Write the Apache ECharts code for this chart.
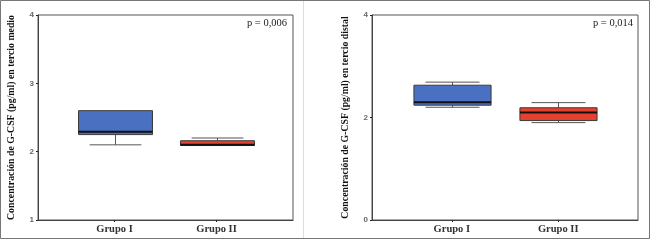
<!DOCTYPE html>
<html>
<head>
<meta charset="utf-8">
<script src="https://cdn.jsdelivr.net/npm/echarts@6/dist/echarts.min.js"></script>
<style>
  html, body { margin: 0; padding: 0; background: #fff; }
  #chart { width: 650px; height: 241px; }
</style>
</head>
<body>
<div id="chart"></div>
<script>
// grupos
const categories = ['Grupo I', 'Grupo II'];
const boxColors = ['#4a70c2', '#e8402f'];

// tercio medio (pg/ml)
const medioLow = [2.10, 2.09];
const medioQ1 = [2.25, 2.09];
const medioMedian = [2.29, 2.10];
const medioQ3 = [2.60, 2.16];
const medioHigh = [2.60, 2.20];

// tercio distal (pg/ml)
const distalLow = [2.20, 1.90];
const distalQ1 = [2.24, 1.94];
const distalMedian = [2.30, 2.10];
const distalQ3 = [2.63, 2.19];
const distalHigh = [2.69, 2.29];

const medioTicks = { min: 1, max: 4, interval: 1 };
const distalTicks = { min: 0, max: 4, interval: 2 };
const pValues = ['p = 0,006', 'p = 0,014'];
const axisNames = [
    'Concentración de G-CSF (pg/ml) en tercio medio',
    'Concentración de G-CSF (pg/ml) en tercio distal'
];

// 5 huecos en el eje, los grupos caen en el 2º y el 4º
const slots = ['', categories[0], '', categories[1], ''];
const slotOf = [1, 3];
const showSlot = (i) => i === 1 || i === 3;

function rows(low, q1, med, q3, high) {
    return categories.map((c, i) => [slotOf[i], low[i], q1[i], med[i], q3[i], high[i]]);
}

function renderBox(params, api) {
    const x = api.value(0);
    const lo = api.coord([x, api.value(1)]);
    const q1 = api.coord([x, api.value(2)]);
    const md = api.coord([x, api.value(3)]);
    const q3 = api.coord([x, api.value(4)]);
    const hi = api.coord([x, api.value(5)]);
    const bw = api.size([1, 0])[0] * 1.45;
    const cw = bw * 0.7;
    const cx = Math.round(lo[0]) + 0.5;
    const whisker = { stroke: '#555', lineWidth: 1 };
    const kids = [];
    if (hi[1] < q3[1] - 0.5) {
        kids.push({ type: 'line', shape: { x1: cx, y1: q3[1], x2: cx, y2: hi[1] }, style: whisker });
        kids.push({ type: 'line', shape: { x1: cx - cw / 2, y1: hi[1], x2: cx + cw / 2, y2: hi[1] }, style: whisker });
    }
    if (lo[1] > q1[1] + 0.5) {
        kids.push({ type: 'line', shape: { x1: cx, y1: q1[1], x2: cx, y2: lo[1] }, style: whisker });
        kids.push({ type: 'line', shape: { x1: cx - cw / 2, y1: lo[1], x2: cx + cw / 2, y2: lo[1] }, style: whisker });
    }
    kids.push({
        type: 'rect',
        shape: { x: cx - bw / 2, y: q3[1], width: bw, height: q1[1] - q3[1] },
        style: { fill: boxColors[params.dataIndex], stroke: '#3a3a3a', lineWidth: 1 }
    });
    kids.push({
        type: 'line',
        shape: { x1: cx - bw / 2, y1: md[1], x2: cx + bw / 2, y2: md[1] },
        style: { stroke: '#111', lineWidth: 2 }
    });
    return { type: 'group', children: kids };
}

const grids = [
    { left: 38, top: 15, width: 255, height: 205 },
    { left: 372, top: 15, width: 266, height: 205 }
];

function xAxisFor(i) {
    return {
        type: 'category', gridIndex: i, data: slots, boundaryGap: true,
        axisLine: { lineStyle: { color: '#444', width: 1 } },
        axisTick: { show: true, interval: showSlot, alignWithLabel: true, length: 2, lineStyle: { color: '#222' } },
        axisLabel: { interval: showSlot, margin: 4, color: '#333', fontSize: 10.5,
            fontFamily: 'Liberation Serif', fontWeight: 'bold' },
        splitLine: { show: false }
    };
}

function yAxisFor(i, ticks) {
    return {
        type: 'value', gridIndex: i, min: ticks.min, max: ticks.max, interval: ticks.interval,
        name: axisNames[i], nameLocation: 'middle', nameGap: 22,
        nameTextStyle: { fontFamily: 'Liberation Serif', fontWeight: 'bold', fontSize: 9.8, color: '#111' },
        axisLine: { show: true, lineStyle: { color: '#444', width: 1 } },
        axisTick: { show: true, length: 2, lineStyle: { color: '#222' } },
        axisLabel: { margin: 4, color: '#666', fontSize: 8, fontFamily: 'Liberation Sans', fontWeight: 'bold' },
        splitLine: { show: false }
    };
}

const chart = echarts.init(document.getElementById('chart'), null, { renderer: 'canvas' });
chart.setOption({
    animation: false,
    backgroundColor: '#fff',
    grid: grids.map(g => Object.assign({ show: true, borderColor: '#555', borderWidth: 1, backgroundColor: 'transparent' }, g)),
    xAxis: [xAxisFor(0), xAxisFor(1)],
    yAxis: [yAxisFor(0, medioTicks), yAxisFor(1, distalTicks)],
    series: [
        { type: 'custom', xAxisIndex: 0, yAxisIndex: 0, renderItem: renderBox,
          data: rows(medioLow, medioQ1, medioMedian, medioQ3, medioHigh) },
        { type: 'custom', xAxisIndex: 1, yAxisIndex: 1, renderItem: renderBox,
          data: rows(distalLow, distalQ1, distalMedian, distalQ3, distalHigh) }
    ],
    graphic: [
        { type: 'rect', shape: { x: 0.5, y: 0.5, width: 649, height: 238 },
          style: { fill: 'none', stroke: '#777', lineWidth: 1 }, silent: true },
        { type: 'line', shape: { x1: 303.5, y1: 1, x2: 303.5, y2: 238 },
          style: { stroke: '#ddd', lineWidth: 1 }, silent: true },
        { type: 'text', right: 650 - 287, top: 18,
          style: { text: pValues[0], font: '10.5px "Liberation Serif"', fill: '#222' } },
        { type: 'text', right: 650 - 633, top: 18,
          style: { text: pValues[1], font: '10.5px "Liberation Serif"', fill: '#222' } }
    ]
});
</script>
</body>
</html>
